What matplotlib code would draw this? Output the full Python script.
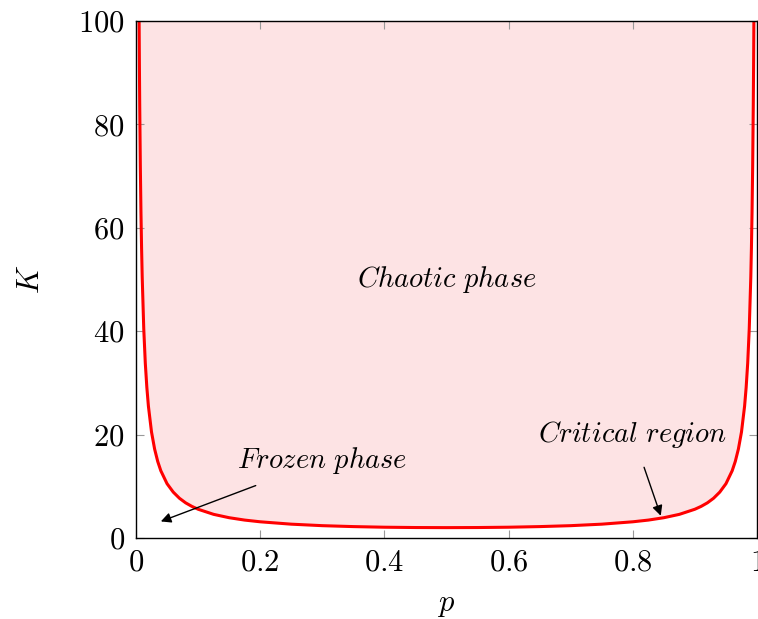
import numpy as np
import matplotlib.pyplot as plt

plt.rcParams['mathtext.fontset'] = 'cm'
plt.rcParams['font.family'] = 'serif'
plt.rcParams['font.serif'] = ['cmr10', 'DejaVu Serif']
plt.rcParams['axes.formatter.use_mathtext'] = True

# critical line K(p), left half (the right half mirrors it)
p_half = [0.005, 0.0055, 0.006, 0.007, 0.008, 0.009, 0.01, 0.0125, 0.015, 0.0175,
          0.02, 0.025, 0.03, 0.035, 0.04, 0.05, 0.06, 0.07, 0.08, 0.09, 0.1,
          0.125, 0.15, 0.175, 0.2, 0.25, 0.3, 0.35, 0.4, 0.45, 0.5]
K_half = [100.5, 91.4, 83.8, 71.9, 63.0, 56.1, 50.5, 40.5, 33.8, 29.1,
          25.5, 20.5, 17.2, 14.8, 13.0, 10.5, 8.87, 7.68, 6.79, 6.11, 5.56,
          4.57, 3.92, 3.46, 3.13, 2.67, 2.38, 2.20, 2.08, 2.02, 2.00]

p = np.array(p_half + [1 - v for v in p_half[-2::-1]])
K = np.array(K_half + K_half[-2::-1])

xticks = [0, 0.2, 0.4, 0.6, 0.8, 1]
xlabels = ['0', '0.2', '0.4', '0.6', '0.8', '1']
yticks = [0, 20, 40, 60, 80, 100]

fig = plt.figure(figsize=(7.58, 6.19), dpi=100)
ax = fig.add_axes([0.1794, 0.1309, 0.8193, 0.8352])

ax.fill_between(p, K, 100, color='#fde3e4', lw=0)
ax.plot(p, K, color='red', lw=2.2)

ax.set_xlim(0, 1)
ax.set_ylim(0, 100)
ax.set_xticks(xticks)
ax.set_xticklabels(['$' + s + '$' for s in xlabels])
ax.set_yticks(yticks)
ax.set_yticklabels(['$%d$' % v for v in yticks])
ax.tick_params(direction='in', length=6, width=0.8, color='#999999',
               labelsize=22, top=True, right=True, pad=8)
for s in ax.spines.values():
    s.set_linewidth(1.0)
    s.set_color('black')

ax.set_xlabel('$p$', fontsize=22, labelpad=11)
ax.set_ylabel('$K$', fontsize=22, labelpad=24)

ax.text(0.5, 50, r'$\mathit{Chaotic\ phase}$', fontsize=20.5, ha='center', va='center')
ax.annotate(r'$\mathit{Frozen\ phase}$', xy=(0.04, 3.2), xytext=(0.3, 15),
            fontsize=20.5, ha='center', va='center',
            arrowprops=dict(arrowstyle='-|>', color='black', lw=1.0,
                            shrinkA=14, shrinkB=0, mutation_scale=15))
ax.annotate(r'$\mathit{Critical\ region}$', xy=(0.845, 4.3), xytext=(0.8, 20),
            fontsize=20.5, ha='center', va='center',
            arrowprops=dict(arrowstyle='-|>', color='black', lw=1.0,
                            shrinkA=11, shrinkB=0, mutation_scale=15))

fig.savefig('out.png', dpi=100)
